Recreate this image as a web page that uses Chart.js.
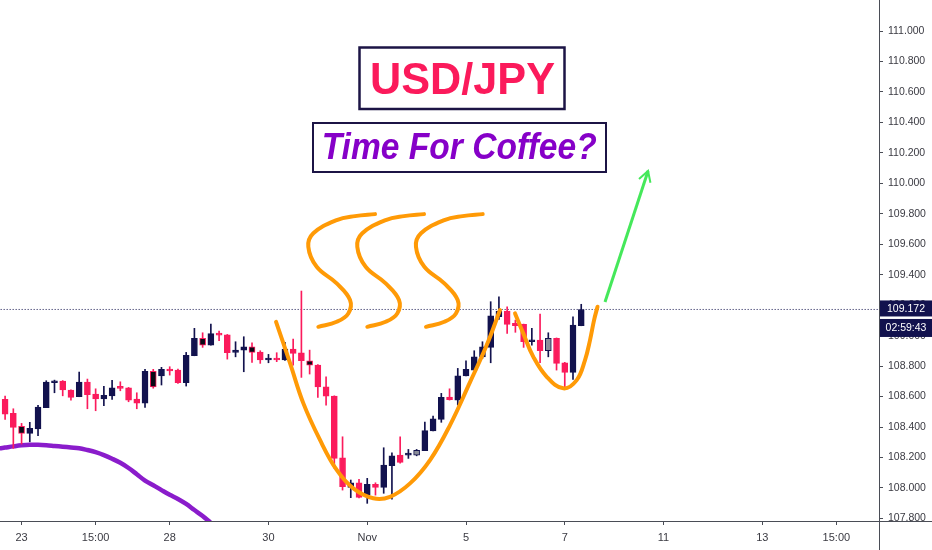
<!DOCTYPE html>
<html><head><meta charset="utf-8">
<script src="https://cdn.jsdelivr.net/npm/chart.js@4.4.1/dist/chart.umd.min.js"></script>
<style>html,body{margin:0;padding:0;background:#fff;overflow:hidden}canvas{display:block}</style>
</head><body>
<canvas id="c" width="932" height="550"></canvas>
<script>
// ---- data (4h candles, USD/JPY) ----
const opens  = [108.582,108.490,108.404,108.358,108.387,108.527,108.691,108.702,108.643,108.599,
                108.695,108.617,108.584,108.605,108.664,108.658,108.584,108.557,108.766,108.735,
                108.779,108.774,108.691,108.868,108.982,108.938,109.015,109.006,108.890,108.905,
                108.927,108.892,108.840,108.851,108.840,108.912,108.888,108.835,108.807,108.664,
                108.603,108.198,108.004,108.034,107.953,108.024,108.004,108.146,108.216,108.216,
                108.216,108.244,108.374,108.450,108.597,108.577,108.735,108.774,108.861,108.923,
                109.124,109.162,109.081,109.074,108.960,108.971,108.901,108.982,108.822,108.759,
                109.065];
const highs  = [108.603,108.520,108.424,108.431,108.542,108.704,108.708,108.705,108.645,108.761,
                108.715,108.651,108.667,108.706,108.697,108.660,108.625,108.779,108.779,108.792,
                108.796,108.780,108.890,109.048,109.019,109.076,109.030,109.008,108.960,108.993,
                108.953,108.901,108.877,108.888,108.956,108.978,109.293,108.905,108.810,108.730,
                108.605,108.336,108.052,108.056,108.063,108.034,108.264,108.231,108.336,108.253,
                108.253,108.433,108.472,108.621,108.651,108.785,108.835,108.901,108.960,109.223,
                109.255,109.190,109.102,109.076,109.048,109.142,109.019,108.985,108.825,109.124,
                109.206];
const lows   = [108.450,108.260,108.288,108.303,108.343,108.527,108.625,108.605,108.577,108.599,
                108.520,108.507,108.540,108.582,108.638,108.566,108.520,108.529,108.655,108.676,
                108.741,108.686,108.669,108.868,108.923,108.938,108.967,108.846,108.861,108.763,
                108.825,108.818,108.822,108.829,108.838,108.807,108.726,108.748,108.595,108.544,
                108.129,107.986,107.936,107.935,107.899,107.953,107.965,107.927,108.162,108.194,
                108.211,108.244,108.374,108.431,108.577,108.544,108.735,108.774,108.851,108.822,
                109.107,109.015,109.022,108.923,108.938,108.822,108.861,108.774,108.664,108.713,
                109.065];
const closes = [108.485,108.398,108.358,108.391,108.531,108.695,108.702,108.643,108.595,108.695,
                108.612,108.584,108.608,108.658,108.654,108.577,108.557,108.766,108.664,108.779,
                108.768,108.691,108.871,108.982,108.938,109.013,109.004,108.888,108.905,108.927,
                108.890,108.840,108.851,108.840,108.912,108.884,108.835,108.807,108.664,108.603,
                108.194,108.008,108.034,107.938,108.024,108.004,108.150,108.211,108.168,108.227,
                108.247,108.376,108.454,108.595,108.580,108.737,108.779,108.861,108.927,109.131,
                109.162,109.074,109.065,108.960,108.971,108.901,108.982,108.818,108.759,109.070,
                109.172];
// moving average (purple)
const maIndex  = [-1,0,1,2,3,4,5,6,7,8,9,10,11,12,13,14,15,16,17,18,19,20,21,22,23,24,25,26];
const maValues = [108.257,108.265,108.273,108.280,108.284,108.284,108.281,108.276,108.271,108.266,
                  108.261,108.249,108.235,108.216,108.192,108.165,108.131,108.090,108.048,108.018,
                  107.986,107.955,107.928,107.895,107.855,107.816,107.770,107.725];
// axis labels
const xTickIndex  = [2,11,20,32,44,56,68,80,92,101];
const xTickLabels = ['23','15:00','28','30','Nov','5','7','11','13','15:00'];
const priceTicks  = [107.8,108.0,108.2,108.4,108.6,108.8,109.0,109.2,109.4,109.6,109.8,110.0,110.2,110.4,110.6,110.8,111.0];
const lastPrice = 109.172;
const countdown = '02:59:43';
// drawn annotations, in (candle index, price) units
const cupBig   = [[32.92,109.091],[34.62,108.820],[36.23,108.557],[38.26,108.315],[40.29,108.118],[42.31,107.997],
                  [44.74,107.932],[46.77,107.942],[49.20,108.030],[51.63,108.183],[54.06,108.413],[56.49,108.695],
                  [58.52,108.938],[60.13,109.168]];
const cupSmall = [[61.96,109.146],[62.96,109.015],[64.18,108.861],[65.81,108.730],[67.83,108.654],[69.45,108.708],
                  [70.46,108.840],[71.07,108.971],[71.56,109.102],[71.98,109.190]];
const steamShape   = [[44.95,109.798],[42.51,109.785],[40.29,109.759],[37.45,109.672],[36.84,109.584],[37.86,109.452],
                      [40.29,109.343],[41.91,109.234],[41.70,109.146],[40.29,109.091],[38.06,109.058]];
const steamOffsets = [0, 5.95, 13.08];
const arrowLine = [[72.89,109.221],[78.12,110.081]];
const arrowHead = [[77.02,110.028],[78.12,110.081],[78.41,110.004]];

// ---- style ----
const BULL = '#12124e', BEAR = '#fb1b5c', AXIS = '#4a4d56', TICK = '#3a3a42';
const ORANGE = '#ff9a06', PURPLE = '#8a1ccb', GREEN = '#45e85a';
const hollowBear = [2,18,24,30,37];
const greyBull = [50,66];

const isBull = i => closes[i] >= opens[i];
const wickColors = opens.map((_, i) => isBull(i) ? BULL : BEAR);
const bodyFill = opens.map((_, i) => hollowBear.includes(i) ? '#0a0a16' : greyBull.includes(i) ? '#8b8d99' : (isBull(i) ? BULL : BEAR));
const bodyBorder = opens.map((_, i) => isBull(i) ? BULL : BEAR);
const pts = arr => arr.map(([x, y]) => ({x, y}));
const curve = (data, color, width, order) => ({type:'line', data, borderColor: color, borderWidth: width, tension: 0.4,
  pointRadius: 0, borderCapStyle: 'round', borderJoinStyle: 'round', fill: false, order});

const overlay = {
  id: 'overlay',
  afterDraw(chart) {
    const ctx = chart.ctx, ca = chart.chartArea, ys = chart.scales.y;
    ctx.save();
    ctx.strokeStyle = AXIS; ctx.lineWidth = 1;
    ctx.beginPath();
    ctx.moveTo(ca.right, Math.round(ca.bottom) + 0.5); ctx.lineTo(chart.width, Math.round(ca.bottom) + 0.5);
    ctx.moveTo(Math.round(ca.right) + 0.5, ca.bottom); ctx.lineTo(Math.round(ca.right) + 0.5, chart.height);
    ctx.stroke();
    // price & countdown tags
    const py = ys.getPixelForValue(lastPrice);
    const tx = Math.round(ca.right) + 1, tw = chart.width - tx, cx = tx + tw / 2;
    ctx.fillStyle = BULL;
    ctx.fillRect(tx, py - 9, tw, 16);
    ctx.fillRect(tx, py + 9.5, tw, 18);
    ctx.fillStyle = '#ffffff';
    ctx.font = '10.5px "Liberation Sans"';
    ctx.textAlign = 'center'; ctx.textBaseline = 'middle';
    ctx.fillText(lastPrice.toFixed(3), cx, py - 0.5);
    ctx.fillText(countdown, cx, py + 18.5);
    // title boxes
    const box = (x, y, w, h, lw, text, font, color, cxT, base, targetW) => {
      ctx.lineWidth = lw; ctx.strokeStyle = '#1c1445';
      ctx.strokeRect(x, y, w, h);
      ctx.font = font; ctx.fillStyle = color; ctx.textAlign = 'center'; ctx.textBaseline = 'alphabetic';
      const m = ctx.measureText(text).width;
      ctx.save(); ctx.translate(cxT, base); ctx.scale(targetW / m, 1); ctx.fillText(text, 0, 0); ctx.restore();
    };
    box(359.5, 47.5, 205, 61.5, 2.5, 'USD/JPY', 'bold 44px "Liberation Sans"', '#fb1a5b', 462.5, 93.5, 185);
    box(313, 123, 293, 49, 2, 'Time For Coffee?', 'italic bold 36px "Liberation Sans"', '#8600c8', 459.2, 158.5, 275);
    ctx.restore();
  }
};

new Chart(document.getElementById('c'), {
  type: 'bar',
  data: {
    datasets: [
      {type:'line', data:[{x:-2,y:lastPrice},{x:110,y:lastPrice}], borderColor: BULL, borderWidth: 1, borderDash:[1,2], pointRadius:0, order: 10},
      {type:'line', data: maIndex.map((x, k) => ({x, y: maValues[k]})), borderColor: PURPLE, borderWidth: 4.5, tension: 0.35, pointRadius: 0, order: 9},
      {type:'bar', data: opens.map((_, i) => ({x: i, y: [lows[i], highs[i]]})), backgroundColor: wickColors, barThickness: 1, grouped: false, order: 8},
      {type:'bar', data: opens.map((o, i) => ({x: i, y: [o, closes[i]]})), backgroundColor: bodyFill, borderColor: bodyBorder,
        borderWidth: 1, borderSkipped: false, barThickness: 6, minBarLength: 2, grouped: false, order: 7},
      curve(pts(cupBig), ORANGE, 4, 3),
      curve(pts(cupSmall), ORANGE, 4, 3),
      ...steamOffsets.map(dx => curve(steamShape.map(([x, y]) => ({x: x + dx, y})), ORANGE, 4, 3)),
      {type:'line', data: pts(arrowLine), borderColor: GREEN, borderWidth: 3, pointRadius: 0, tension: 0, order: 1},
      {type:'line', data: pts(arrowHead), borderColor: GREEN, borderWidth: 2, pointRadius: 0, tension: 0, order: 1}
    ]
  },
  options: {
    responsive: false, animation: false, events: [], devicePixelRatio: 1,
    layout: { padding: 0 },
    plugins: { legend: { display: false }, tooltip: { enabled: false }, title: { display: false } },
    scales: {
      x: {
        type: 'linear', min: -0.62, max: 106.18, offset: false,
        grid: { display: true, drawOnChartArea: false, drawTicks: true, tickLength: 4, color: AXIS, offset: false },
        border: { display: true, color: AXIS, width: 1 },
        ticks: { autoSkip: false, maxRotation: 0, padding: 6, color: TICK, font: { family: 'Liberation Sans', size: 11 },
          callback: (v, i) => xTickLabels[i] },
        afterBuildTicks: s => { s.ticks = xTickIndex.map(v => ({ value: v })); },
        afterFit: s => { s.height = 29; s.paddingLeft = 0; s.paddingRight = 0; }
      },
      y: {
        type: 'linear', position: 'right', min: 107.783, max: 111.204, beginAtZero: false,
        grid: { display: true, drawOnChartArea: false, drawTicks: true, tickLength: 4, color: AXIS },
        border: { display: true, color: AXIS, width: 1 },
        ticks: { autoSkip: false, padding: 5, color: TICK, font: { family: 'Liberation Sans', size: 10.5 },
          callback: v => Number(v).toFixed(3) },
        afterBuildTicks: s => { s.ticks = priceTicks.map(v => ({ value: v })); },
        afterFit: s => { s.width = 53; s.paddingTop = 0; s.paddingBottom = 0; }
      }
    }
  },
  plugins: [overlay]
});
</script>
</body></html>
